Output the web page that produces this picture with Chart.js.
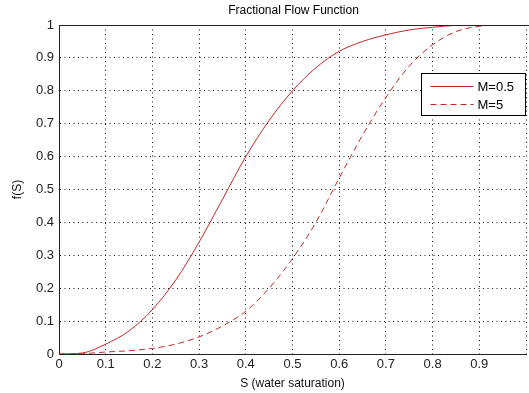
<!DOCTYPE html>
<html>
<head>
<meta charset="utf-8">
<script src="https://cdn.jsdelivr.net/npm/chart.js@4.4.1/dist/chart.umd.min.js"></script>
<style>
  html, body { margin: 0; padding: 0; background: #fff; }
  #wrap { width: 529px; height: 393px; }
</style>
</head>
<body>
<div id="wrap"><canvas id="flowchart" width="529" height="393"></canvas></div>
<script>
// water saturation values
var sat = [0, 0.05, 0.1, 0.15, 0.2, 0.25, 0.3, 0.35, 0.4, 0.45, 0.5,
           0.55, 0.6, 0.65, 0.7, 0.75, 0.8, 0.85, 0.9, 0.95, 1];
// f(S) for M=0.5
var fracM05 = [0, 0.003, 0.03, 0.07, 0.135, 0.225, 0.34, 0.47, 0.6, 0.71, 0.8,
               0.87, 0.92, 0.95, 0.97, 0.985, 0.993, 0.999, 1, 1, 1];
// f(S) for M=5
var fracM5 = [0, 0.001, 0.006, 0.01, 0.017, 0.03, 0.052, 0.085, 0.13, 0.2, 0.29,
              0.4, 0.535, 0.665, 0.78, 0.875, 0.94, 0.98, 0.996, 1, 1];
var seriesNames = ['M=0.5', 'M=5'];

var red = 'rgb(196, 40, 40)';
var font = 'Liberation Sans, Arial, sans-serif';

function toPoints(ys) {
    return sat.map(function (s, i) { return { x: s, y: ys[i] }; });
}

// draws title, top border and the legend inside the axes
var extras = {
    id: 'extras',
    afterDraw: function (chart) {
        var c = chart.ctx;
        var a = chart.chartArea;
        c.save();
        c.fillStyle = '#000';
        c.font = '12px ' + font;
        c.textAlign = 'center';
        c.textBaseline = 'middle';
        c.fillText('Fractional Flow Function', (a.left + a.right) / 2 + 1, 11);

        c.strokeStyle = '#222';
        c.lineWidth = 1;
        c.beginPath();
        c.moveTo(a.left, a.top + 0.5);
        c.lineTo(a.right + 3, a.top + 0.5);
        c.stroke();

        var bx = 421.5, by = 73.5, bw = 104, bh = 42;
        c.fillStyle = '#fff';
        c.fillRect(bx, by, bw, bh);
        c.strokeStyle = '#000';
        c.strokeRect(bx, by, bw, bh);
        chart.data.datasets.forEach(function (ds, i) {
            var y = by + 13 + i * 18;
            c.strokeStyle = ds.borderColor;
            c.setLineDash(ds.borderDash || []);
            c.beginPath();
            c.moveTo(bx + 9, y);
            c.lineTo(bx + 52, y);
            c.stroke();
            c.setLineDash([]);
            c.fillStyle = '#000';
            c.textAlign = 'left';
            c.font = '13px ' + font;
            c.fillText(ds.label, bx + 56, y + 0.5);
        });
        c.restore();
    }
};

var ctx = document.getElementById('flowchart').getContext('2d');
var flowchart = new Chart(ctx, {
    type: 'line',
    data: {
        datasets: [{
            label: seriesNames[0],
            data: toPoints(fracM05),
            borderColor: red,
            borderWidth: 1,
            pointRadius: 0,
            cubicInterpolationMode: 'monotone'
        }, {
            label: seriesNames[1],
            data: toPoints(fracM5),
            borderColor: red,
            borderWidth: 1,
            borderDash: [6, 4],
            pointRadius: 0,
            cubicInterpolationMode: 'monotone'
        }]
    },
    options: {
        responsive: false,
        animation: false,
        layout: { padding: { top: 25, right: 3, left: 0, bottom: 0 } },
        plugins: {
            legend: { display: false },
            title: { display: false },
            tooltip: { enabled: false }
        },
        scales: {
            x: {
                type: 'linear',
                min: 0,
                max: 1,
                afterFit: function (scale) { scale.height = 39; },
                ticks: {
                    stepSize: 0.1,
                    color: '#222',
                    font: { family: font, size: 13 },
                    padding: 3,
                    maxRotation: 0,
                    callback: function (v) { return v >= 1 ? '' : Math.round(v * 10) / 10; }
                },
                grid: { color: '#111', lineWidth: 1, drawTicks: false },
                border: { color: '#222', width: 1, dash: [1, 3.5] },
                title: {
                    display: true,
                    text: 'S (water saturation)',
                    color: '#111',
                    font: { family: font, size: 12 },
                    padding: { top: 0, bottom: 2 }
                }
            },
            y: {
                min: 0,
                max: 1,
                afterFit: function (scale) { scale.width = 59; },
                ticks: {
                    stepSize: 0.1,
                    color: '#222',
                    font: { family: font, size: 13 },
                    padding: 5,
                    callback: function (v) { return Math.round(v * 10) / 10; }
                },
                grid: { color: '#111', lineWidth: 1, drawTicks: false },
                border: { color: '#222', width: 1, dash: [1, 3.5] },
                title: {
                    display: true,
                    text: 'f(S)',
                    color: '#111',
                    font: { family: font, size: 12 },
                    padding: { top: 10, bottom: 0 }
                }
            }
        }
    },
    plugins: [extras]
});
</script>
</body>
</html>
